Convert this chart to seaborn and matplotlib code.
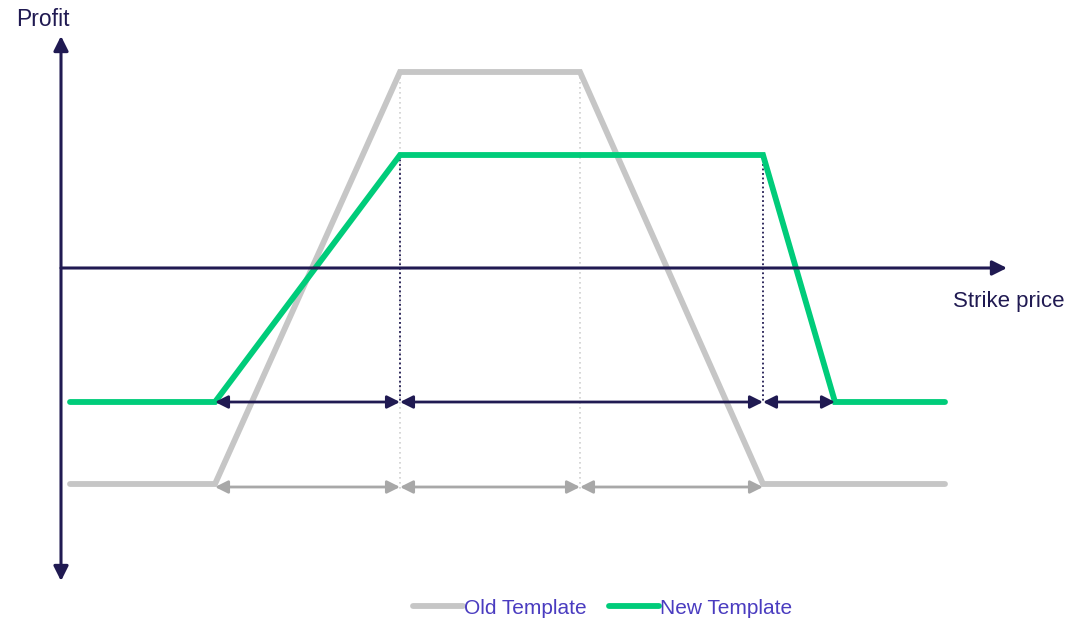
# Old vs new template payoff diagram
import pandas as pd
import matplotlib.pyplot as plt
import seaborn as sns

# ========= Data =========
# strike positions (arbitrary units, axis origin = 0) and profit levels
old_strike = [9, 154, 339, 519, 702, 884]
old_profit = [-216, -216, 196, 196, -216, -216]
new_strike = [9, 154, 339, 702, 774, 884]
new_profit = [-134, -134, 113, 113, -134, -134]

# spans marked with double arrows under each template
new_spans = [(154, 339), (339, 702), (702, 774)]
old_spans = [(154, 339), (339, 519), (519, 702)]

series_names = ["Old Template", "New Template"]

GREY = "#c6c6c6"
GREEN = "#00cc7a"
NAVY = "#201a52"
GREY_ARROW = "#a8a8a8"
LEGEND_TXT = "#4a3cc0"

df = pd.concat([
    pd.DataFrame({"strike": old_strike, "profit": old_profit, "template": series_names[0]}),
    pd.DataFrame({"strike": new_strike, "profit": new_profit, "template": series_names[1]}),
])

# ========= Plot =========
sns.set_style("white")
plt.rcParams["font.family"] = ["Liberation Sans", "DejaVu Sans"]

fig = plt.figure(figsize=(10.68, 6.18), dpi=100)
ax = fig.add_axes([0, 0, 1, 1])
ax.set_xlim(-61, 1007)
ax.set_ylim(-350, 268)
ax.axis("off")

# dotted guide lines
for x in old_strike[2:4]:
    ax.plot([x, x], [old_profit[2], old_profit[0] - 6], ls=(0, (1, 2)), color="#cfcfcf", lw=1.2, zorder=1)
for x in new_strike[2:4]:
    ax.plot([x, x], [new_profit[2], new_profit[0]], ls=(0, (1, 1.5)), color=NAVY, lw=1.3, zorder=2)

sns.lineplot(data=df, x="strike", y="profit", hue="template", palette=[GREY, GREEN],
             sort=False, estimator=None, linewidth=4.2, ax=ax, zorder=3, legend=False)
for ln in ax.get_lines()[-2:]:
    ln.set_solid_capstyle("round")
    ln.set_solid_joinstyle("miter")

# axes with arrow heads
axis_kw = dict(color=NAVY, lw=2.2, mutation_scale=22, shrinkA=0, shrinkB=0)
ax.annotate("", xy=(0, 232), xytext=(0, -313), arrowprops=dict(arrowstyle="<|-|>", **axis_kw), zorder=4)
ax.annotate("", xy=(946, 0), xytext=(0, 0), arrowprops=dict(arrowstyle="-|>", **axis_kw), zorder=4)
ax.text(-45, 249, "Profit", fontsize=16.5, color=NAVY, va="center", ha="left")
ax.text(892, -33, "Strike price", fontsize=16, color=NAVY, va="center", ha="left")

# span arrows
for a, b in new_spans:
    ax.annotate("", xy=(a, new_profit[0]), xytext=(b, new_profit[0]),
                arrowprops=dict(arrowstyle="<|-|>", color=NAVY, lw=2, mutation_scale=19, shrinkA=0, shrinkB=0), zorder=4)
for a, b in old_spans:
    ax.annotate("", xy=(a, old_profit[0] - 3), xytext=(b, old_profit[0] - 3),
                arrowprops=dict(arrowstyle="<|-|>", color=GREY_ARROW, lw=2, mutation_scale=19, shrinkA=0, shrinkB=0), zorder=2)

# legend
handles = [plt.Line2D([], [], color=c, lw=4.2, solid_capstyle="round") for c in (GREY, GREEN)]
leg = fig.legend(handles, series_names, loc="center", bbox_to_anchor=(0.564, 0.016), ncol=2,
                 frameon=False, fontsize=15, handlelength=2.4, handletextpad=0.05, columnspacing=1.05,
                 borderpad=0, borderaxespad=0)
for t in leg.get_texts():
    t.set_color(LEGEND_TXT)

fig.savefig("out.png", dpi=100)
